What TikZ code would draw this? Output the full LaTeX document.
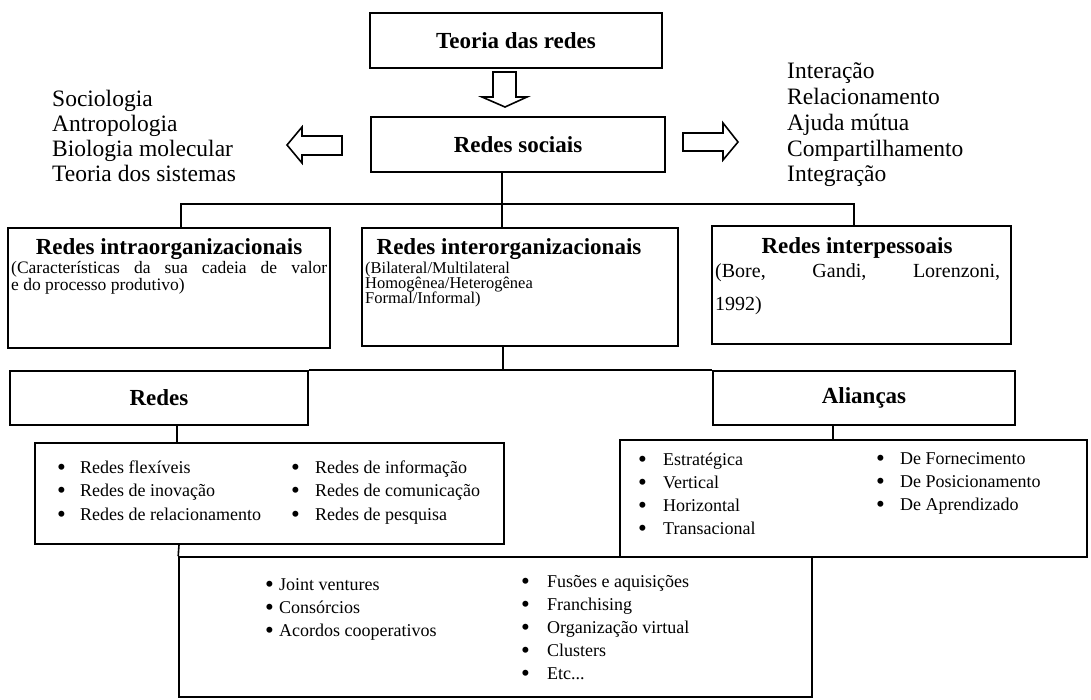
\documentclass[tikz,border=0pt]{standalone}
\usepackage{fontspec}
\setmainfont{Liberation Serif}
\newcommand{\bul}{\smash{\fontsize{25}{25}\selectfont\raisebox{-2pt}{•}}}
\begin{document}
\begin{tikzpicture}[x=1pt,y=-1pt,
  box/.style={draw, line width=1.6pt, inner sep=0pt},
  ttl/.style={font=\fontsize{23}{26}\selectfont\bfseries, inner sep=0pt},
  side/.style={font=\fontsize{23.5}{25.5}\selectfont, inner sep=0pt, anchor=base west},
  sub/.style={font=\fontsize{17.5}{18}\selectfont, inner sep=0pt, anchor=base west},
  subc/.style={font=\fontsize{16.5}{18}\selectfont, inner sep=0pt, anchor=base west},
  subb/.style={font=\fontsize{20}{22}\selectfont, inner sep=0pt, anchor=base west},
  item/.style={font=\fontsize{18}{22}\selectfont, inner sep=0pt, anchor=base west},
  conn/.style={line width=1.6pt},
  harrow/.style={draw, line width=1.6pt, fill=white, line join=miter}]
\useasboundingbox (0,0) rectangle (1091,699);

% boxes
\node[box, minimum width=292pt, minimum height=55pt] (teoria) at (516,40.5) {};
\node[box, minimum width=294pt, minimum height=55pt] (soc) at (518,144.5) {};
\node[box, minimum width=322pt, minimum height=120pt] (intra) at (169,288) {};
\node[box, minimum width=316pt, minimum height=118pt] (inter) at (520,287) {};
\node[box, minimum width=299pt, minimum height=118pt] (interp) at (861.5,285) {};
\node[box, minimum width=298pt, minimum height=54pt] (redes) at (159,398) {};
\node[box, minimum width=302pt, minimum height=54pt] (alianc) at (864,398) {};
\node[box, minimum width=469pt, minimum height=101pt] (rlist) at (269.5,493.5) {};
\node[box, minimum width=467pt, minimum height=117pt] (alist) at (853.5,498.5) {};
\node[box, minimum width=633pt, minimum height=140pt] (bbox) at (495.5,627) {};

% titles
\node[ttl] (tteoria) at (teoria) {Teoria das redes};
\node[ttl] (tsoc) at (soc) {Redes sociais};
\node[ttl, anchor=base] (tintra) at (169,254) {Redes intraorganizacionais};
\node[ttl, anchor=base] (tinter) at (509,254) {Redes interorganizacionais};
\node[ttl, anchor=base] (tinterp) at (857,253) {Redes interpessoais};
\node[ttl] (tredes) at (redes) {Redes};
\node[ttl] (talianc) at (alianc) {Alianças};

% subtitles
\node[sub] (si1) at (11,273) {\makebox[316pt][s]{(Características da sua cadeia de valor}};
\node[sub] (si2) at (11,290) {e do processo produtivo)};
\node[subc] (se1) at (365,273) {(Bilateral/Multilateral};
\node[subc] (se2) at (365,288) {Homogênea/Heterogênea};
\node[subc] (se3) at (365,303) {Formal/Informal)};
\node[subb] (sp1) at (715,277) {\makebox[285pt][s]{(Bore, Gandi, Lorenzoni,}};
\node[subb] (sp2) at (715,310) {1992)};

% side lists
\node[side] (l1) at (52,106) {Sociologia};
\node[side] (l2) at (52,131) {Antropologia};
\node[side] (l3) at (52,156) {Biologia molecular};
\node[side] (l4) at (52,181) {Teoria dos sistemas};
\node[side] (r1) at (787,78) {Interação};
\node[side] (r2) at (787,104) {Relacionamento};
\node[side] (r3) at (787,130) {Ajuda mútua};
\node[side] (r4) at (787,156) {Compartilhamento};
\node[side] (r5) at (787,181) {Integração};

% hollow arrows
\draw[harrow] (493,72) -- (516,72) -- (516,97) -- (527,97) -- (505,107) -- (482,97) -- (493,97) -- cycle;
\draw[harrow] (342,136) -- (302,136) -- (302,127) -- (287,145) -- (302,163) -- (302,155) -- (342,155) -- cycle;
\draw[harrow] (683,133) -- (723,133) -- (723,123) -- (738,142) -- (723,160) -- (723,151) -- (683,151) -- cycle;

% connectors
\coordinate (jm) at (502,204);
\coordinate (jl) at (181,204);
\coordinate (jr) at (854,204);
\draw[conn] (soc.south -| jm) -- (jm) -- (inter.north -| jm);
\draw[conn] (intra.north -| jl) -- (jl) -- (jr) -- (interp.north -| jr);
\coordinate (jb) at (503,371);
\draw[conn] (inter.south -| jb) -- (jb);
\draw[conn] (redes.north east) -- (alianc.north west);
\coordinate (jrl) at (177,0);
\draw[conn] (redes.south -| jrl) -- (rlist.north -| jrl);
\coordinate (jal) at (833,0);
\draw[conn] (alianc.south -| jal) -- (alist.north -| jal);
\coordinate (jbl) at (179,0);
\draw[conn] (rlist.south -| jbl) -- (bbox.north west);

% Redes list
\node[item] (ra1) at (57,473) {\makebox[23pt][l]{\bul}Redes flexíveis};
\node[item] (ra2) at (57,496) {\makebox[23pt][l]{\bul}Redes de inovação};
\node[item] (ra3) at (57,520) {\makebox[23pt][l]{\bul}Redes de relacionamento};
\node[item] (rb1) at (291,473) {\makebox[24pt][l]{\bul}Redes de informação};
\node[item] (rb2) at (291,496) {\makebox[24pt][l]{\bul}Redes de comunicação};
\node[item] (rb3) at (291,520) {\makebox[24pt][l]{\bul}Redes de pesquisa};

% Aliancas list
\node[item] (aa1) at (638,465) {\makebox[25pt][l]{\bul}Estratégica};
\node[item] (aa2) at (638,488) {\makebox[25pt][l]{\bul}Vertical};
\node[item] (aa3) at (638,511) {\makebox[25pt][l]{\bul}Horizontal};
\node[item] (aa4) at (638,534) {\makebox[25pt][l]{\bul}Transacional};
\node[item] (ab1) at (876,464) {\makebox[24pt][l]{\bul}De Fornecimento};
\node[item] (ab2) at (876,487) {\makebox[24pt][l]{\bul}De Posicionamento};
\node[item] (ab3) at (876,510) {\makebox[24pt][l]{\bul}De Aprendizado};

% bottom list
\node[item] (ba1) at (265,590) {\makebox[14pt][l]{\bul}Joint ventures};
\node[item] (ba2) at (265,613) {\makebox[14pt][l]{\bul}Consórcios};
\node[item] (ba3) at (265,636) {\makebox[14pt][l]{\bul}Acordos cooperativos};
\node[item] (bb1) at (521,587) {\makebox[26pt][l]{\bul}Fusões e aquisições};
\node[item] (bb2) at (521,610) {\makebox[26pt][l]{\bul}Franchising};
\node[item] (bb3) at (521,633) {\makebox[26pt][l]{\bul}Organização virtual};
\node[item] (bb4) at (521,656) {\makebox[26pt][l]{\bul}Clusters};
\node[item] (bb5) at (521,679) {\makebox[26pt][l]{\bul}Etc...};
\end{tikzpicture}
\end{document}
